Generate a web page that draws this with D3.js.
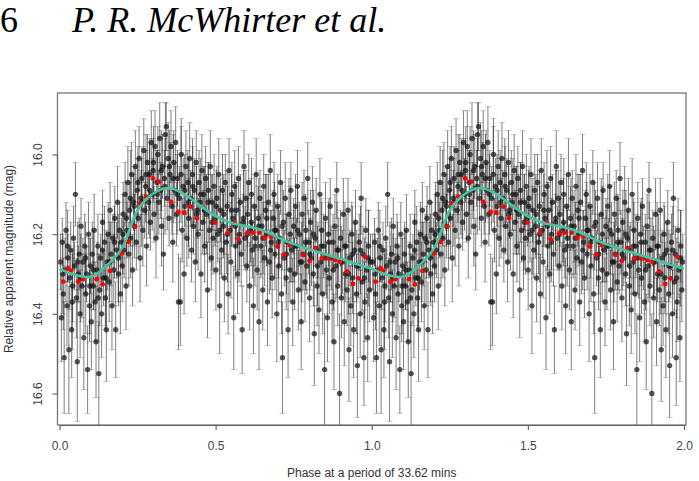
<!DOCTYPE html>
<html>
<head>
<meta charset="UTF-8">
<title>Phase-folded light curve</title>
<style>
  body { margin: 0; background: #fff; }
  svg { display: block; }
  .hdr { font-family: "Liberation Serif", "Times New Roman", serif; font-size: 36px; fill: #000; }
  .axis text { font-family: "Liberation Sans", Arial, sans-serif; font-size: 12px; fill: #444; }
  .axis line, .axis path { stroke: #666; stroke-width: 1.2; }
  .title { font-family: "Liberation Sans", Arial, sans-serif; font-size: 12px; fill: #333; }
</style>
</head>
<body>
<svg id="chart" width="699" height="481"></svg>
<script src="https://d3js.org/d3.v7.min.js"></script>
<script>
// observations for one cycle: [phase, magnitude, error]; drawn at phase and phase+1
const obs = [
  [0.003,16.27,0.07],[0.006,16.41,0.11],[0.009,16.22,0.06],[0.012,16.35,0.09],[0.015,16.51,0.14],[0.018,16.29,0.08],[0.021,16.19,0.07],[0.024,16.38,0.10],[0.027,16.26,0.06],[0.030,16.49,0.16],[0.033,16.31,0.08],[0.036,16.24,0.07],[0.039,16.44,0.12],[0.042,16.33,0.09],[0.045,16.21,0.08],[0.048,16.28,0.06],[0.051,16.10,0.08],[0.054,16.36,0.10],[0.057,16.52,0.15],[0.060,16.30,0.07],[0.063,16.25,0.09],[0.066,16.40,0.11],[0.069,16.18,0.07],[0.072,16.33,0.08],[0.075,16.27,0.06],[0.078,16.46,0.13],[0.081,16.23,0.08],[0.084,16.35,0.10],[0.087,16.30,0.07],[0.090,16.54,0.11],[0.093,16.20,0.08],[0.096,16.38,0.09],[0.099,16.28,0.07],
  [0.102,16.42,0.12],[0.105,16.25,0.08],[0.108,16.33,0.06],[0.111,16.19,0.09],[0.114,16.37,0.10],[0.117,16.47,0.14],[0.120,16.29,0.07],[0.123,16.23,0.08],[0.126,16.55,0.13],[0.129,16.34,0.09],[0.132,16.26,0.06],[0.135,16.40,0.11],[0.138,16.17,0.08],[0.141,16.31,0.07],[0.144,16.22,0.09],[0.147,16.36,0.08],[0.150,16.44,0.13],[0.153,16.27,0.07],[0.156,16.20,0.08],[0.159,16.32,0.10],[0.162,16.14,0.07],[0.165,16.25,0.08],[0.168,16.38,0.11],[0.171,16.21,0.06],[0.174,16.29,0.09],[0.177,16.16,0.08],[0.180,16.44,0.12],[0.183,16.24,0.07],[0.186,16.12,0.09],[0.189,16.30,0.08],[0.192,16.19,0.07],[0.195,16.35,0.10],[0.198,16.22,0.06],
  [0.201,16.28,0.09],[0.204,16.15,0.08],[0.207,16.24,0.07],[0.210,16.10,0.08],[0.213,16.33,0.11],[0.216,16.19,0.07],[0.219,16.07,0.09],[0.222,16.25,0.08],[0.225,16.14,0.07],[0.228,16.21,0.10],[0.231,16.05,0.08],[0.234,16.29,0.09],[0.237,16.12,0.07],[0.240,16.18,0.08],[0.243,16.03,0.09],[0.246,16.22,0.07],[0.249,16.09,0.08],[0.252,16.16,0.10],[0.255,16.01,0.08],[0.258,16.26,0.11],[0.261,16.11,0.07],[0.264,16.06,0.08],[0.267,16.19,0.09],[0.270,15.99,0.08],[0.273,16.14,0.07],[0.276,16.08,0.09],[0.279,16.23,0.10],[0.282,16.02,0.07],[0.285,16.12,0.08],[0.288,16.05,0.09],[0.291,16.17,0.07],[0.294,15.97,0.08],[0.297,16.10,0.09],
  [0.300,16.04,0.08],[0.303,16.15,0.07],[0.306,15.98,0.09],[0.309,16.21,0.10],[0.312,16.07,0.08],[0.315,16.00,0.07],[0.318,16.12,0.08],[0.321,15.96,0.09],[0.324,16.09,0.07],[0.327,16.18,0.10],[0.330,16.03,0.08],[0.333,16.25,0.09],[0.336,16.06,0.07],[0.339,15.95,0.08],[0.342,15.93,0.06],[0.345,16.11,0.08],[0.348,16.01,0.09],[0.351,16.16,0.07],[0.354,16.05,0.08],[0.357,15.98,0.09],[0.360,16.13,0.07],[0.363,16.22,0.10],[0.366,16.02,0.08],[0.369,16.09,0.07],[0.372,15.97,0.09],[0.375,16.15,0.08],[0.378,16.06,0.07],[0.381,16.37,0.12],[0.384,16.11,0.08],[0.387,16.37,0.11],[0.390,16.00,0.09],[0.393,16.19,0.08],[0.396,16.08,0.07],[0.399,16.30,0.10],
  [0.402,16.13,0.08],[0.405,16.03,0.09],[0.408,16.21,0.07],[0.411,16.07,0.08],[0.414,16.16,0.10],[0.417,16.01,0.09],[0.420,16.11,0.07],[0.423,16.24,0.08],[0.426,16.05,0.09],[0.429,16.18,0.07],[0.432,16.09,0.08],[0.435,16.27,0.10],[0.438,16.02,0.08],[0.441,16.14,0.07],[0.444,16.20,0.09],[0.447,16.07,0.08],[0.450,16.12,0.07],[0.453,16.30,0.11],[0.456,16.04,0.09],[0.459,16.17,0.08],[0.462,16.10,0.07],[0.465,16.23,0.09],[0.468,16.06,0.08],[0.471,16.15,0.10],[0.474,16.34,0.12],[0.477,16.09,0.07],[0.480,16.19,0.08],[0.483,16.03,0.09],[0.486,16.26,0.08],[0.489,16.12,0.07],[0.492,16.21,0.09],[0.495,16.08,0.08],[0.498,16.16,0.07],
  [0.501,16.29,0.10],[0.504,16.11,0.08],[0.507,16.20,0.07],[0.510,16.05,0.09],[0.513,16.38,0.12],[0.516,16.14,0.08],[0.519,16.24,0.07],[0.522,16.09,0.09],[0.525,16.18,0.08],[0.528,16.31,0.11],[0.531,16.07,0.07],[0.534,16.22,0.08],[0.537,16.13,0.09],[0.540,16.35,0.10],[0.543,16.04,0.08],[0.546,16.19,0.07],[0.549,16.27,0.09],[0.552,16.10,0.08],[0.555,16.16,0.07],[0.558,16.41,0.13],[0.561,16.08,0.09],[0.564,16.23,0.08],[0.567,16.14,0.07],[0.570,16.30,0.10],[0.573,16.06,0.08],[0.576,16.20,0.09],[0.579,16.12,0.07],[0.582,16.25,0.08],[0.585,16.44,0.11],[0.588,16.17,0.07],[0.591,16.03,0.09],[0.594,16.21,0.08],[0.597,16.11,0.07],
  [0.600,16.28,0.09],[0.603,16.15,0.08],[0.606,16.07,0.07],[0.609,16.33,0.11],[0.612,16.19,0.08],[0.615,16.10,0.09],[0.618,16.24,0.07],[0.621,16.38,0.12],[0.624,16.13,0.08],[0.627,16.21,0.07],[0.630,16.05,0.09],[0.633,16.29,0.10],[0.636,16.16,0.08],[0.639,16.42,0.12],[0.642,16.11,0.07],[0.645,16.23,0.08],[0.648,16.18,0.09],[0.651,16.34,0.10],[0.654,16.08,0.08],[0.657,16.26,0.07],[0.660,16.14,0.09],[0.663,16.20,0.08],[0.666,16.37,0.11],[0.669,16.12,0.07],[0.672,16.27,0.08],[0.675,16.04,0.09],[0.678,16.22,0.08],[0.681,16.31,0.10],[0.684,16.16,0.07],[0.687,16.10,0.08],[0.690,16.25,0.09],[0.693,16.19,0.07],[0.696,16.40,0.12],
  [0.699,16.13,0.08],[0.702,16.28,0.09],[0.705,16.21,0.07],[0.708,16.07,0.08],[0.711,16.35,0.10],[0.714,16.51,0.14],[0.717,16.17,0.08],[0.720,16.26,0.07],[0.723,16.11,0.09],[0.726,16.31,0.08],[0.729,16.22,0.07],[0.732,16.44,0.12],[0.735,16.15,0.09],[0.738,16.29,0.08],[0.741,16.09,0.07],[0.744,16.24,0.08],[0.747,16.37,0.11],[0.750,16.18,0.07],[0.753,16.30,0.09],[0.756,16.13,0.08],[0.759,16.23,0.07],[0.762,16.08,0.09],[0.765,16.34,0.10],[0.768,16.20,0.08],[0.771,16.27,0.07],[0.774,16.42,0.12],[0.777,16.15,0.08],[0.780,16.25,0.09],[0.783,16.11,0.07],[0.786,16.32,0.10],[0.789,16.19,0.08],[0.792,16.28,0.07],[0.795,16.06,0.09],[0.798,16.22,0.08],
  [0.801,16.36,0.11],[0.804,16.17,0.08],[0.807,16.26,0.07],[0.810,16.12,0.09],[0.813,16.30,0.08],[0.816,16.45,0.13],[0.819,16.21,0.07],[0.822,16.14,0.08],[0.825,16.33,0.10],[0.828,16.24,0.07],[0.831,16.39,0.11],[0.834,16.10,0.09],[0.837,16.27,0.08],[0.840,16.19,0.07],[0.843,16.35,0.10],[0.846,16.23,0.08],[0.849,16.54,0.14],[0.852,16.16,0.09],[0.855,16.29,0.07],[0.858,16.41,0.11],[0.861,16.20,0.08],[0.864,16.31,0.09],[0.867,16.13,0.07],[0.870,16.26,0.08],[0.873,16.37,0.10],[0.876,16.22,0.07],[0.879,16.47,0.12],[0.882,16.18,0.08],[0.885,16.28,0.09],[0.888,16.09,0.07],[0.891,16.33,0.10],[0.894,16.24,0.08],[0.897,16.60,0.20],
  [0.900,16.21,0.07],[0.903,16.36,0.10],[0.906,16.27,0.08],[0.909,16.15,0.09],[0.912,16.42,0.11],[0.915,16.30,0.07],[0.918,16.23,0.08],[0.921,16.34,0.09],[0.924,16.14,0.08],[0.927,16.49,0.13],[0.930,16.26,0.07],[0.933,16.38,0.10],[0.936,16.20,0.08],[0.939,16.31,0.09],[0.942,16.44,0.12],[0.945,16.24,0.07],[0.948,16.17,0.08],[0.951,16.35,0.10],[0.954,16.53,0.13],[0.957,16.28,0.08],[0.960,16.22,0.07],[0.963,16.40,0.11],[0.966,16.11,0.09],[0.969,16.32,0.08],[0.972,16.25,0.07],[0.975,16.51,0.12],[0.978,16.37,0.10],[0.981,16.19,0.08],[0.984,16.29,0.07],[0.987,16.46,0.11],[0.990,16.23,0.09],[0.993,16.34,0.08],[0.996,16.27,0.07],
  // second night, same cycle
  [0.011,16.30,0.10],[0.026,16.23,0.09],[0.041,16.37,0.12],[0.058,16.27,0.10],[0.068,16.31,0.11],[0.083,16.26,0.09],[0.097,16.33,0.12],[0.109,16.29,0.10],[0.124,16.36,0.11],[0.137,16.24,0.09],[0.149,16.31,0.12],[0.161,16.27,0.10],[0.176,16.22,0.09],[0.188,16.26,0.11],[0.203,16.20,0.10],[0.214,16.16,0.09],[0.227,16.11,0.12],[0.239,16.13,0.10],[0.251,16.07,0.09],[0.263,16.12,0.11],[0.277,16.05,0.10],[0.289,16.09,0.12],[0.301,16.02,0.09],[0.313,16.10,0.11],[0.326,16.04,0.10],[0.338,16.08,0.12],[0.352,16.03,0.09],[0.364,16.06,0.11],[0.377,16.10,0.10],[0.389,16.05,0.12],[0.401,16.09,0.09],[0.413,16.12,0.11],[0.427,16.08,0.10],[0.439,16.15,0.12],[0.452,16.10,0.09],[0.464,16.14,0.11],[0.476,16.12,0.10],[0.488,16.17,0.12],[0.502,16.13,0.09],
  [0.514,16.19,0.11],[0.526,16.15,0.10],[0.538,16.20,0.12],[0.551,16.14,0.09],[0.563,16.18,0.11],[0.575,16.22,0.10],[0.589,16.16,0.12],[0.602,16.20,0.09],[0.614,16.17,0.11],[0.626,16.23,0.10],[0.638,16.18,0.12],[0.652,16.21,0.09],[0.664,16.16,0.11],[0.676,16.24,0.10],[0.689,16.19,0.12],[0.701,16.22,0.09],[0.713,16.18,0.11],[0.727,16.25,0.10],[0.739,16.20,0.12],[0.751,16.23,0.09],[0.763,16.19,0.11],[0.776,16.27,0.10],[0.788,16.22,0.12],[0.802,16.25,0.09],[0.814,16.20,0.11],[0.826,16.28,0.10],[0.838,16.23,0.12],[0.851,16.26,0.09],[0.863,16.22,0.11],[0.877,16.29,0.10],[0.889,16.24,0.12],[0.902,16.27,0.09],[0.914,16.23,0.11],[0.926,16.30,0.10],[0.938,16.25,0.12],[0.952,16.28,0.09],[0.964,16.24,0.11],[0.977,16.31,0.10],[0.989,16.26,0.12]
];

// binned means (red)
const binPhase = [0.012,0.028,0.037,0.060,0.076,0.119,0.138,0.162,0.199,0.221,0.242,0.258,0.277,0.299,0.319,0.357,0.381,0.399,0.421,0.440,0.498,0.539,0.560,0.573,0.600,0.619,0.640,0.659,0.678,0.699,0.720,0.737,0.781,0.801,0.819,0.840,0.862,0.883,0.899,0.921,0.940,0.958,0.979];
const binMag = [16.319,16.286,16.292,16.319,16.313,16.313,16.326,16.292,16.248,16.219,16.181,16.123,16.106,16.060,16.068,16.119,16.144,16.146,16.131,16.160,16.171,16.196,16.171,16.213,16.198,16.196,16.196,16.209,16.206,16.231,16.251,16.227,16.252,16.267,16.235,16.261,16.261,16.265,16.269,16.294,16.325,16.311,16.257];

// fitted model (green)
const fitPhase = [0,0.05,0.10,0.15,0.20,0.25,0.30,0.35,0.40,0.45,0.50,0.55,0.60,0.65,0.70,0.75,0.80,0.85,0.90,0.95];
const fitMag = [16.287,16.302,16.307,16.280,16.235,16.140,16.098,16.084,16.100,16.128,16.155,16.172,16.180,16.190,16.208,16.225,16.238,16.250,16.262,16.275];

const xTicks = [0, 0.5, 1.0, 1.5, 2.0];
const yTicks = [16.0, 16.2, 16.4, 16.6];
const cycles = [0, 1];

const svg = d3.select("#chart");
const box = { left: 57.5, right: 686, top: 93, bottom: 425 };

const x = d3.scaleLinear().domain([0, 2]).range([59.5, 684]);
const y = d3.scaleLinear().domain([16.0, 16.6]).range([154.5, 393.5]);

// header
svg.append("text").attr("class", "hdr").attr("x", 0).attr("y", 32).text("6");
svg.append("text").attr("class", "hdr").attr("x", 72).attr("y", 32)
  .style("font-style", "italic").text("P. R. McWhirter et al.");

svg.append("clipPath").attr("id", "plotclip").append("rect")
  .attr("x", box.left).attr("y", box.top)
  .attr("width", box.right - box.left).attr("height", box.bottom - box.top);

const plot = svg.append("g").attr("clip-path", "url(#plotclip)");

const pts = cycles.flatMap(k => obs.map(d => ({ p: d[0] + k, m: d[1], e: d[2] })));

// error bars
plot.append("g").selectAll("line").data(pts).enter().append("line")
  .attr("x1", d => x(d.p)).attr("x2", d => x(d.p))
  .attr("y1", d => y(d.m - d.e)).attr("y2", d => y(d.m + d.e))
  .attr("stroke", "#000").attr("stroke-opacity", 0.5).attr("stroke-width", 1);

// caps
const caps = plot.append("g");
["top", "bot"].forEach(side => {
  caps.selectAll("line." + side).data(pts).enter().append("line")
    .attr("class", side)
    .attr("x1", d => x(d.p) - 3).attr("x2", d => x(d.p) + 3)
    .attr("y1", d => y(side === "top" ? d.m - d.e : d.m + d.e))
    .attr("y2", d => y(side === "top" ? d.m - d.e : d.m + d.e))
    .attr("stroke", "#000").attr("stroke-opacity", 0.22).attr("stroke-width", 1);
});

// points
plot.append("g").selectAll("circle").data(pts).enter().append("circle")
  .attr("cx", d => x(d.p)).attr("cy", d => y(d.m)).attr("r", 2.7)
  .attr("fill", "#111").attr("fill-opacity", 0.7);

// binned means
const bins = cycles.flatMap(k => binPhase.map((p, i) => ({ p: p + k, m: binMag[i] })));
plot.append("g").selectAll("circle").data(bins).enter().append("circle")
  .attr("cx", d => x(d.p)).attr("cy", d => y(d.m)).attr("r", 2.4)
  .attr("fill", "#f00");

// fit line
const fit = cycles.flatMap(k => fitPhase.map((p, i) => ({ p: p + k, m: fitMag[i] })));
fit.push({ p: 2, m: fitMag[0] });
plot.append("path").datum(fit)
  .attr("d", d3.line().x(d => x(d.p)).y(d => y(d.m)).curve(d3.curveCatmullRom.alpha(0.5)))
  .attr("fill", "none").attr("stroke", "#45c3a0").attr("stroke-width", 2.6);

// box
svg.append("rect")
  .attr("x", box.left).attr("y", box.top)
  .attr("width", box.right - box.left).attr("height", box.bottom - box.top)
  .attr("fill", "none").attr("stroke", "#777").attr("stroke-width", 1.3);

// axes
svg.append("g").attr("class", "axis")
  .attr("transform", `translate(0,${box.bottom})`)
  .call(d3.axisBottom(x).tickValues(xTicks).tickFormat(d3.format(".1f"))
    .tickSize(5).tickSizeOuter(0).tickPadding(11));

const yAxis = svg.append("g").attr("class", "axis")
  .attr("transform", `translate(${box.left},0)`)
  .call(d3.axisLeft(y).tickValues(yTicks).tickFormat(d3.format(".1f"))
    .tickSize(5).tickSizeOuter(0));
yAxis.select(".domain").attr("d", `M0,${y(16.0)}V${y(16.6)}`);
yAxis.selectAll(".tick text")
  .attr("x", 0).attr("dy", 0).attr("text-anchor", "middle")
  .attr("transform", "translate(-16,0) rotate(-90)");

// titles
svg.append("text").attr("class", "title")
  .attr("transform", "translate(13,259) rotate(-90)")
  .attr("text-anchor", "middle").text("Relative apparent magnitude (mag)");
svg.append("text").attr("class", "title")
  .attr("x", (box.left + box.right) / 2).attr("y", 477)
  .attr("text-anchor", "middle").text("Phase at a period of 33.62 mins");
</script>
</body>
</html>
